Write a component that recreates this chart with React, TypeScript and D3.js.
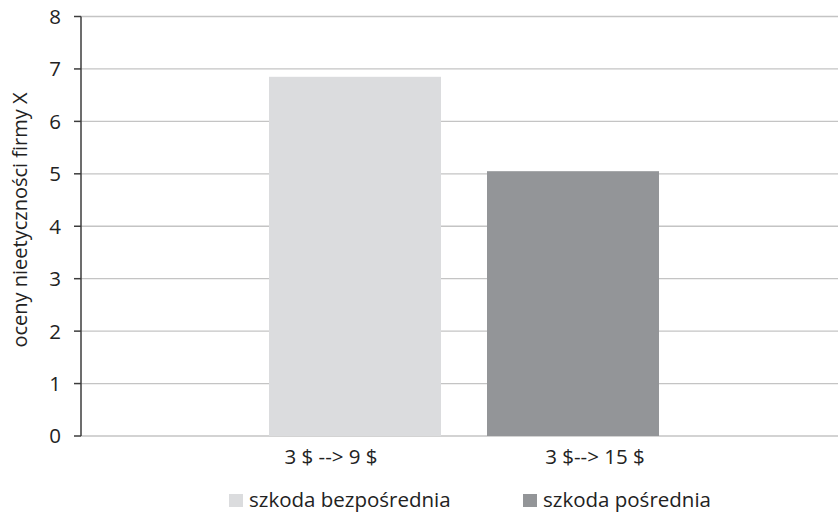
import React from "react";
import * as d3 from "d3";

const series = ["szkoda bezpośrednia", "szkoda pośrednia"];
const values = [6.85, 5.05];
const categories = ["3 $ --> 9 $", "3 $--> 15 $"];
const colors = ["#dbdcde", "#939598"];
const yTicks = [0, 1, 2, 3, 4, 5, 6, 7, 8];
const yTitle = "oceny nieetyczności firmy X";

const W = 838;
const H = 513;
const FONT = "'Open Sans', sans-serif";

export default function App() {
  const left = 81;
  const right = 838;
  const top = 16.5;
  const bottom = 436;

  const y = d3.scaleLinear().domain([0, 8]).range([bottom, top]);
  const x = d3
    .scaleBand<string>()
    .domain(series)
    .range([90, 838])
    .paddingInner(0.211)
    .paddingOuter(0.821);
  const labelX = d3.scalePoint<string>().domain(categories).range([331, 595]);

  return (
    <svg
      width={W}
      height={H}
      style={{ position: "absolute", left: 0, top: 0, background: "#fff" }}
      fontFamily={FONT}
    >
      {/* horizontal gridlines */}
      {yTicks.map((t) => (
        <line
          key={`g${t}`}
          x1={left}
          x2={right}
          y1={y(t)}
          y2={y(t)}
          stroke="#c4c4c4"
          strokeWidth={1.3}
        />
      ))}

      {/* bars */}
      {series.map((s, i) => (
        <rect
          key={s}
          x={x(s)}
          y={y(values[i])}
          width={x.bandwidth()}
          height={y(0) - y(values[i])}
          fill={colors[i]}
        />
      ))}

      {/* y axis */}
      <line x1={left} x2={left} y1={top} y2={bottom} stroke="#3c3c3c" strokeWidth={1.5} />
      {yTicks.map((t) => (
        <g key={`t${t}`}>
          <line x1={left - 7} x2={left} y1={y(t)} y2={y(t)} stroke="#3c3c3c" strokeWidth={1.5} />
          <text
            x={61}
            y={y(t)}
            dy="0.36em"
            textAnchor="end"
            fontSize={20.5}
            fill="#222"
          >
            {t}
          </text>
        </g>
      ))}

      {/* y axis title */}
      <text
        transform={`translate(27, 220) rotate(-90)`}
        textAnchor="middle"
        fontSize={20}
        fill="#222"
      >
        {yTitle}
      </text>

      {/* category labels */}
      {categories.map((c) => (
        <text key={c} x={labelX(c)} y={464} textAnchor="middle" fontSize={20.5} fill="#222">
          {c}
        </text>
      ))}

      {/* legend */}
      {series.map((s, i) => {
        const lx = i === 0 ? 229 : 523;
        return (
          <g key={`l${s}`}>
            <rect x={lx} y={494} width={14} height={13} fill={colors[i]} />
            <text x={lx + 20} y={507} fontSize={20.5} fill="#222">
              {s}
            </text>
          </g>
        );
      })}
    </svg>
  );
}
